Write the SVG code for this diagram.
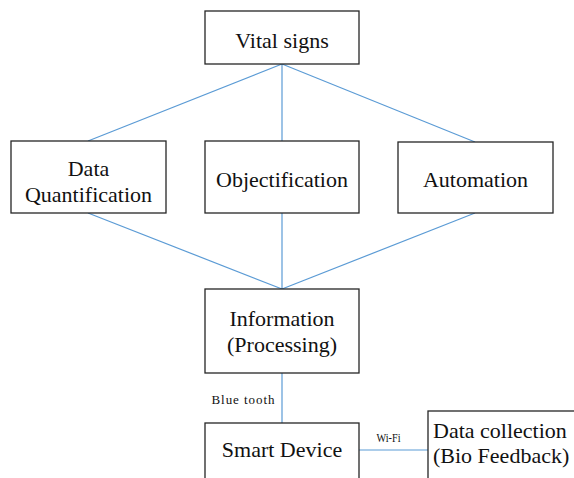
<svg xmlns="http://www.w3.org/2000/svg" width="574" height="478" viewBox="0 0 574 478">
<style>
.box{fill:#fff;stroke:#262626;stroke-width:1.3}
.t{font-family:'Liberation Serif','DejaVu Serif',serif;font-size:22px;fill:#111;text-anchor:middle}
.s{font-family:'Liberation Serif','DejaVu Serif',serif;font-size:13px;fill:#111}
.c{stroke:#5b9bd5;stroke-width:1.2;fill:none}
</style>
<rect width="574" height="478" fill="#fff"/>
<g id="connectors">
<line class="c" x1="282" y1="64" x2="88" y2="141"/>
<line class="c" x1="282" y1="64" x2="282" y2="141"/>
<line class="c" x1="282" y1="64" x2="475" y2="142"/>
<line class="c" x1="88" y1="213" x2="282" y2="289"/>
<line class="c" x1="282" y1="213" x2="282" y2="289"/>
<line class="c" x1="475" y1="213" x2="282" y2="289"/>
<line class="c" x1="282" y1="373" x2="282" y2="423"/>
<line class="c" x1="359" y1="450" x2="428" y2="450"/>
<text class="s" x="211.5" y="404" textLength="63" lengthAdjust="spacing">Blue tooth</text>
<text class="s" x="376.5" y="441.5" textLength="24" lengthAdjust="spacingAndGlyphs">Wi-Fi</text>
</g>
<g id="vital">
<rect class="box" x="205" y="11" width="154" height="53"/>
<text class="t" x="282" y="47.5">Vital signs</text>
</g>
<g id="quant">
<rect class="box" x="11" y="141" width="155" height="72"/>
<text class="t" x="88.5" y="175.5">Data</text>
<text class="t" x="88.5" y="201.5">Quantification</text>
</g>
<g id="obj">
<rect class="box" x="205" y="141" width="154" height="72"/>
<text class="t" x="282" y="187">Objectification</text>
</g>
<g id="auto">
<rect class="box" x="398" y="142" width="155" height="71"/>
<text class="t" x="475.5" y="187">Automation</text>
</g>
<g id="info">
<rect class="box" x="205" y="289" width="154" height="84"/>
<text class="t" x="282" y="326">Information</text>
<text class="t" x="282" y="352">(Processing)</text>
</g>
<g id="smart">
<rect class="box" x="205" y="423" width="154" height="70"/>
<text class="t" x="282" y="456.5">Smart Device</text>
</g>
<g id="datacol">
<rect class="box" x="428" y="411" width="160" height="80"/>
<text class="t" x="433" y="437.5" style="text-anchor:start">Data collection</text>
<text class="t" x="433" y="463" style="text-anchor:start">(Bio Feedback)</text>
</g>
</svg>
